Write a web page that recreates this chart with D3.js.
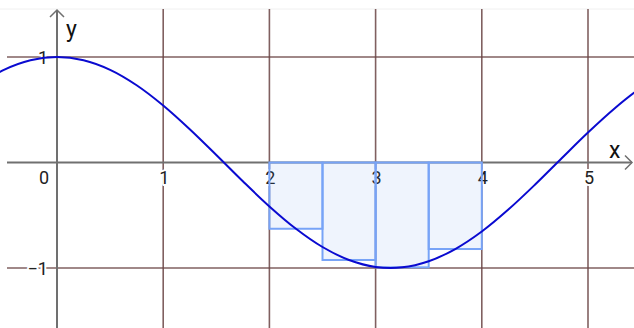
<!DOCTYPE html>
<html>
<head>
<meta charset="utf-8">
<script src="https://cdn.jsdelivr.net/npm/d3@7"></script>
<style>
  html, body { margin: 0; padding: 0; background: #fff; }
  svg { display: block; }
</style>
</head>
<body>
<svg id="chart" width="634" height="328"></svg>
<script>
// Grid / tick values
const xTicks = [0, 1, 2, 3, 4, 5];
const yTicks = [-1, 0, 1];

// Sampled curve y = cos(x)
const curveX = [-0.75, -0.5, -0.25, 0, 0.25, 0.5, 0.75, 1, 1.25, 1.5, 1.75, 2, 2.25, 2.5, 2.75, 3, 3.25, 3.5, 3.75, 4, 4.25, 4.5, 4.75, 5, 5.25, 5.5, 5.75];
const curveY = [0.732, 0.878, 0.969, 1, 0.969, 0.878, 0.732, 0.540, 0.315, 0.071, -0.178, -0.416, -0.628, -0.801, -0.924, -0.990, -0.994, -0.936, -0.820, -0.654, -0.446, -0.211, 0.038, 0.284, 0.512, 0.709, 0.861];

// Midpoint rectangles on [2, 4]
const rectLeft = [2, 2.5, 3, 3.5];
const rectWidth = 0.5;
const rectHeight = [-0.628, -0.924, -0.994, -0.820];

const W = 634, H = 328;
const svg = d3.select("#chart");

const x = d3.scaleLinear().domain([0, 5]).range([57, 588]);
const y = d3.scaleLinear().domain([-1, 1]).range([268, 57]);

const gridColor = "#6a4444";
const axisColor = "#707070";
const font = "Roboto, 'Noto Sans', sans-serif";

// faint frame line at top
svg.append("line").attr("x1", 0).attr("x2", W).attr("y1", 9).attr("y2", 9)
  .attr("stroke", "#f0f0f0").attr("stroke-width", 1);

// grid
svg.append("g").selectAll("line").data(xTicks.filter(d => d !== 0)).join("line")
  .attr("x1", d => x(d)).attr("x2", d => x(d))
  .attr("y1", 9).attr("y2", H)
  .attr("stroke", gridColor).attr("stroke-width", 1.6).attr("stroke-opacity", 0.85);
svg.append("g").selectAll("line").data(yTicks.filter(d => d !== 0)).join("line")
  .attr("x1", 7).attr("x2", W)
  .attr("y1", d => y(d)).attr("y2", d => y(d))
  .attr("stroke", gridColor).attr("stroke-width", 1.6).attr("stroke-opacity", 0.85);

// axes
svg.append("line").attr("x1", 7).attr("x2", W - 2).attr("y1", y(0)).attr("y2", y(0))
  .attr("stroke", axisColor).attr("stroke-width", 2);
svg.append("line").attr("x1", x(0)).attr("x2", x(0)).attr("y1", 10).attr("y2", H)
  .attr("stroke", axisColor).attr("stroke-width", 2);
// arrow heads
svg.append("path")
  .attr("d", `M${x(0) - 7},${17} L${x(0)},${10} L${x(0) + 7},${17}`)
  .attr("fill", "none").attr("stroke", axisColor).attr("stroke-width", 1.5);
svg.append("path")
  .attr("d", `M${W - 9},${y(0) - 7} L${W - 2},${y(0)} L${W - 9},${y(0) + 7}`)
  .attr("fill", "none").attr("stroke", axisColor).attr("stroke-width", 1.5);

// tick labels
const labels = svg.append("g")
  .attr("font-family", font).attr("font-size", 18).attr("fill", "#222")
  .attr("stroke", "#fff").attr("stroke-width", 4).attr("paint-order", "stroke")
  .attr("stroke-linejoin", "round");
labels.selectAll("text.xt").data(xTicks).join("text")
  .attr("class", "xt")
  .attr("x", d => d === 0 ? x(d) - 13 : x(d) + 1)
  .attr("y", y(0) + 21)
  .attr("text-anchor", "middle")
  .text(d => d);
labels.selectAll("text.yt").data(yTicks.filter(d => d !== 0)).join("text")
  .attr("class", "yt")
  .attr("x", x(0) - 9)
  .attr("y", d => y(d) + 7)
  .attr("text-anchor", "end")
  .text(d => d < 0 ? "\u2212" + Math.abs(d) : d);

// axis names
svg.append("text").attr("x", 66).attr("y", 37)
  .attr("font-family", font).attr("font-size", 23).attr("fill", "#111").text("y");
svg.append("text").attr("x", 609).attr("y", 158)
  .attr("font-family", font).attr("font-size", 23).attr("fill", "#111").text("x");

// rectangles
svg.append("g").selectAll("rect").data(rectLeft).join("rect")
  .attr("x", d => x(d))
  .attr("width", x(rectWidth) - x(0))
  .attr("y", y(0))
  .attr("height", (d, i) => y(rectHeight[i]) - y(0))
  .attr("fill", "rgb(100,150,240)").attr("fill-opacity", 0.1)
  .attr("stroke", "#77a3f7").attr("stroke-width", 2);

// curve
const pts = curveX.map((d, i) => [d, curveY[i]]);
svg.append("defs").append("clipPath").attr("id", "clip")
  .append("rect").attr("x", 0).attr("y", 9).attr("width", W).attr("height", H - 9);
svg.append("path")
  .datum(pts)
  .attr("clip-path", "url(#clip)")
  .attr("d", d3.line().x(d => x(d[0])).y(d => y(d[1])).curve(d3.curveCatmullRom))
  .attr("fill", "none").attr("stroke", "#0a0ad0").attr("stroke-width", 2);
</script>
</body>
</html>
